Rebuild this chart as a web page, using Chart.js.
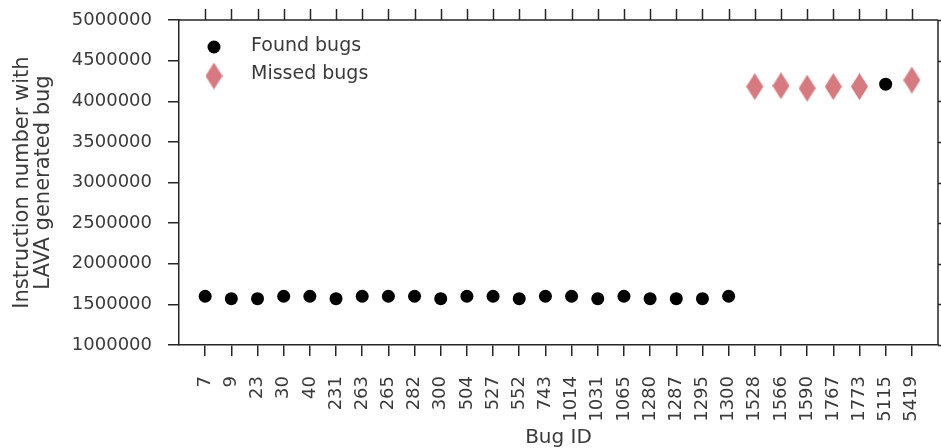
<!DOCTYPE html>
<html>
<head>
<meta charset="utf-8">
<script src="https://cdn.jsdelivr.net/npm/chart.js@4.4.1/dist/chart.umd.min.js"></script>
<style>
  html, body { margin: 0; padding: 0; background: #fff; }
  #wrap { width: 941px; height: 448px; position: relative; }
</style>
</head>
<body>
<div id="wrap"><canvas id="chart" width="941" height="448"></canvas></div>
<script>
// Bug IDs along the x axis (one slot each)
const bugIds = ['7', '9', '23', '30', '40', '231', '263', '265', '282', '300', '504', '527', '552', '743',
  '1014', '1031', '1065', '1280', '1287', '1295', '1300', '1528', '1566', '1590', '1767', '1773', '5115', '5419'];

// Bugs that were found, with the instruction number of the LAVA bug
const foundIds = ['7', '9', '23', '30', '40', '231', '263', '265', '282', '300', '504', '527', '552', '743',
  '1014', '1031', '1065', '1280', '1287', '1295', '1300', '5115'];
const foundValues = [1600000, 1570000, 1570000, 1600000, 1600000, 1570000, 1600000, 1600000, 1600000, 1570000,
  1600000, 1600000, 1570000, 1600000, 1600000, 1570000, 1600000, 1570000, 1570000, 1570000, 1600000, 4210000];

// Bugs that were missed
const missedIds = ['1528', '1566', '1590', '1767', '1773', '5419'];
const missedValues = [4180000, 4190000, 4160000, 4180000, 4180000, 4260000];

// Y axis tick values
const yTicks = [1000000, 1500000, 2000000, 2500000, 3000000, 3500000, 4000000, 4500000, 5000000];

const INK = '#262626';
const TEXT = '#3a3a3a';
const DIAMOND = '#d77a7f';

// Thin diamond marker drawn once to an offscreen canvas
function makeDiamond(w, h, color) {
  const c = document.createElement('canvas');
  c.width = w; c.height = h;
  const g = c.getContext('2d');
  g.fillStyle = color;
  g.beginPath();
  g.moveTo(w / 2, 0);
  g.lineTo(w, h / 2);
  g.lineTo(w / 2, h);
  g.lineTo(0, h / 2);
  g.closePath();
  g.fill();
  return c;
}
const diamondImg = makeDiamond(17, 27, DIAMOND);

const foundPoints = foundIds.map((id, i) => ({ x: bugIds.indexOf(id), y: foundValues[i] }));
const missedPoints = missedIds.map((id, i) => ({ x: bugIds.indexOf(id), y: missedValues[i] }));

Chart.defaults.font.family = "'DejaVu Sans', sans-serif";
Chart.defaults.color = TEXT;

// Closed frame: top and right spines with outward ticks, plus an inset legend
const framePlugin = {
  id: 'frame',
  afterDraw(chart) {
    const { ctx, chartArea: a, scales } = chart;
    ctx.save();
    ctx.strokeStyle = INK;
    ctx.lineWidth = 1.5;
    ctx.beginPath();
    ctx.moveTo(a.left, a.top); ctx.lineTo(a.right, a.top);
    ctx.moveTo(a.right, a.top); ctx.lineTo(a.right, a.bottom);
    bugIds.forEach((_, i) => {
      const x = Math.round(scales.x.getPixelForValue(i)) + 0.5;
      ctx.moveTo(x, a.top); ctx.lineTo(x, a.top - 11);
    });
    yTicks.forEach(v => {
      const y = Math.round(scales.y.getPixelForValue(v)) + 0.5;
      ctx.moveTo(a.right, y); ctx.lineTo(a.right + 11, y);
    });
    ctx.stroke();

    // legend
    ctx.fillStyle = '#000';
    ctx.beginPath();
    ctx.arc(214, 47, 6.5, 0, Math.PI * 2);
    ctx.fill();
    ctx.drawImage(diamondImg, 214 - 8.5, 76 - 13.5);
    ctx.fillStyle = TEXT;
    ctx.font = "19px 'DejaVu Sans'";
    ctx.textBaseline = 'middle';
    ctx.textAlign = 'left';
    ctx.fillText('Found bugs', 251, 46);
    ctx.fillText('Missed bugs', 251, 74);
    ctx.restore();
  }
};

new Chart(document.getElementById('chart'), {
  type: 'scatter',
  data: {
    datasets: [
      {
        label: 'Found bugs',
        data: foundPoints,
        pointStyle: 'circle',
        pointRadius: 6.5,
        pointHoverRadius: 6.5,
        backgroundColor: '#000',
        borderColor: '#000',
        borderWidth: 0,
        order: 1
      },
      {
        label: 'Missed bugs',
        data: missedPoints,
        pointStyle: diamondImg,
        pointRadius: 10,
        backgroundColor: DIAMOND,
        borderColor: DIAMOND,
        order: 2
      }
    ]
  },
  options: {
    responsive: false,
    animation: false,
    events: [],
    layout: { autoPadding: false, padding: { top: 20, right: 3, left: 0, bottom: 0 } },
    plugins: {
      legend: { display: false },
      tooltip: { enabled: false }
    },
    scales: {
      x: {
        type: 'linear',
        min: -1,
        max: bugIds.length,
        afterBuildTicks(scale) {
          scale.ticks = bugIds.map((_, i) => ({ value: i }));
        },
        afterFit(scale) {
          scale.height = 103;
          scale.paddingLeft = 0;
          scale.paddingRight = 0;
        },
        ticks: {
          autoSkip: false,
          minRotation: 90,
          maxRotation: 90,
          padding: 20,
          color: TEXT,
          font: { size: 18 },
          callback: (v) => bugIds[v] !== undefined ? bugIds[v] : ''
        },
        grid: {
          drawOnChartArea: false,
          drawTicks: true,
          tickLength: 11,
          color: INK,
          lineWidth: 1.5
        },
        border: { display: true, color: INK, width: 1.5 },
        title: {
          display: true,
          text: 'Bug ID',
          color: TEXT,
          font: { size: 20, lineHeight: 1.0 },
          padding: { top: 0, bottom: 0 }
        }
      },
      y: {
        min: 1000000,
        max: 5000000,
        afterBuildTicks(scale) {
          scale.ticks = yTicks.map(v => ({ value: v }));
        },
        afterFit(scale) {
          scale.width = 179;
          scale.paddingTop = 0;
          scale.paddingBottom = 0;
        },
        ticks: {
          padding: 16,
          color: TEXT,
          font: { size: 18 },
          callback: (v) => String(v)
        },
        grid: {
          drawOnChartArea: false,
          drawTicks: true,
          tickLength: 11,
          color: INK,
          lineWidth: 1.5
        },
        border: { display: true, color: INK, width: 1.5 },
        title: {
          display: true,
          text: ['Instruction number with', 'LAVA generated bug'],
          color: TEXT,
          font: { size: 21, lineHeight: 1.02 },
          padding: { top: 11.5, bottom: 0 }
        }
      }
    }
  },
  plugins: [framePlugin]
});
</script>
</body>
</html>
